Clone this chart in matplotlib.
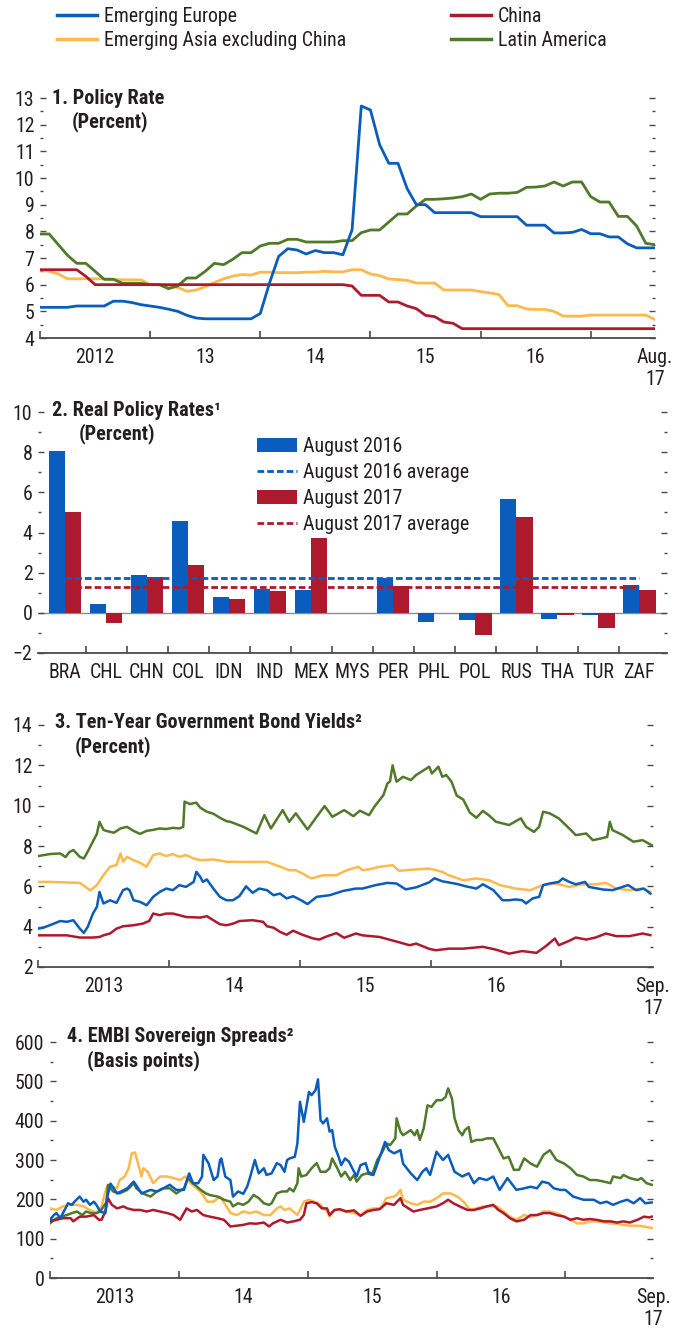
import numpy as np
import matplotlib
matplotlib.use('Agg')
import matplotlib.pyplot as plt
from matplotlib import font_manager as fm
from matplotlib.ticker import MultipleLocator, FixedLocator, FixedFormatter, NullFormatter
from matplotlib.lines import Line2D
from matplotlib.patches import Patch


def pick_family(cands, weight):
    have = {(f.name, f.weight, f.style) for f in fm.fontManager.ttflist}
    for c in cands:
        if (c, weight, 'normal') in have:
            return c
    return 'DejaVu Sans'


condensed = ['Roboto Condensed', 'Archivo Narrow', 'PT Sans Narrow', 'IBM Plex Sans Condensed',
             'Pragati Narrow', 'Fira Sans Condensed', 'Barlow Condensed', 'Liberation Sans Narrow']
REG = pick_family(condensed, 400)
BOLD = pick_family(condensed, 700)
plt.rcParams['font.family'] = [REG, 'DejaVu Sans']
FS = 14.3
FS_B = 14.6
plt.rcParams['font.size'] = FS

BLUE = '#0a5cbd'
RED = '#ad1a2e'
ORANGE = '#fdb94b'
GREEN = '#4e7a29'
TEXT = '#231f20'
AXIS = '#4a4a4a'

series_names = ['Emerging Europe', 'Emerging Asia excluding China', 'China', 'Latin America']

# ---- panel 1: policy rate, monthly Jan 2012 - Aug 2017
p1_europe = [5.15, 5.15, 5.15, 5.15, 5.2, 5.2, 5.2, 5.2, 5.38, 5.38, 5.33, 5.25,
             5.2, 5.15, 5.08, 5.0, 4.85, 4.75, 4.72, 4.72, 4.72, 4.72, 4.72, 4.72,
             4.92, 6.06, 7.06, 7.35, 7.3, 7.15, 7.28, 7.2, 7.2, 7.12, 8.06, 12.7,
             12.55, 11.25, 10.55, 10.55, 9.6, 9.0, 9.0, 8.7, 8.7, 8.7, 8.7, 8.7,
             8.55, 8.55, 8.55, 8.55, 8.55, 8.23, 8.23, 8.23, 7.94, 7.94, 7.96, 8.07,
             7.91, 7.91, 7.79, 7.79, 7.53, 7.38, 7.38, 7.38]
p1_latam = [7.9, 7.9, 7.5, 7.1, 6.8, 6.8, 6.5, 6.2, 6.2, 6.05, 6.05, 6.05,
            6.0, 6.0, 5.85, 5.95, 6.25, 6.25, 6.5, 6.8, 6.75, 6.95, 7.2, 7.2,
            7.45, 7.55, 7.55, 7.7, 7.7, 7.6, 7.6, 7.6, 7.6, 7.65, 7.65, 7.95,
            8.05, 8.05, 8.35, 8.65, 8.65, 8.95, 9.2, 9.2, 9.22, 9.25, 9.3, 9.4,
            9.2, 9.4, 9.43, 9.43, 9.46, 9.65, 9.66, 9.7, 9.85, 9.7, 9.85, 9.85,
            9.3, 9.1, 9.1, 8.56, 8.56, 8.2, 7.55, 7.5]
p1_asia = [6.55, 6.5, 6.4, 6.22, 6.22, 6.22, 6.22, 6.22, 6.2, 6.18, 6.18, 6.18,
           6.0, 6.0, 5.95, 5.9, 5.75, 5.8, 5.92, 6.08, 6.22, 6.32, 6.38, 6.36,
           6.47, 6.47, 6.45, 6.45, 6.45, 6.47, 6.47, 6.5, 6.48, 6.48, 6.56, 6.56,
           6.4, 6.34, 6.21, 6.19, 6.16, 6.06, 6.06, 6.06, 5.8, 5.8, 5.8, 5.8,
           5.74, 5.69, 5.63, 5.21, 5.21, 5.09, 5.07, 5.07, 5.0, 4.82, 4.82, 4.82,
           4.86, 4.86, 4.86, 4.86, 4.86, 4.86, 4.86, 4.69]
p1_china = [6.56, 6.56, 6.56, 6.56, 6.56, 6.31, 6.0, 6.0, 6.0, 6.0, 6.0, 6.0,
            6.0, 6.0, 6.0, 6.0, 6.0, 6.0, 6.0, 6.0, 6.0, 6.0, 6.0, 6.0,
            6.0, 6.0, 6.0, 6.0, 6.0, 6.0, 6.0, 6.0, 6.0, 6.0, 5.95, 5.6,
            5.6, 5.6, 5.35, 5.35, 5.2, 5.1, 4.85, 4.8, 4.6, 4.55, 4.35, 4.35,
            4.35, 4.35, 4.35, 4.35, 4.35, 4.35, 4.35, 4.35, 4.35, 4.35, 4.35, 4.35,
            4.35, 4.35, 4.35, 4.35, 4.35, 4.35, 4.35, 4.35]

# ---- panel 2: real policy rates
countries = ['BRA', 'CHL', 'CHN', 'COL', 'IDN', 'IND', 'MEX', 'MYS',
             'PER', 'PHL', 'POL', 'RUS', 'THA', 'TUR', 'ZAF']
aug2016 = [8.06, 0.46, 1.9, 4.59, 0.81, 1.21, 1.16, -0.03, 1.74, -0.48, -0.38, 5.68, -0.33, -0.13, 1.41]
aug2017 = [5.0, -0.53, 1.8, 2.4, 0.71, 1.11, 3.74, -0.03, 1.32, -0.03, -1.08, 4.78, -0.12, -0.78, 1.16]

# ---- panel 3: ten-year yields (x = years since Jan 2013)
p3_latam_t = [0.00, 0.09, 0.17, 0.21, 0.24, 0.27, 0.32, 0.35, 0.37, 0.41, 0.45, 0.47, 0.50, 0.52, 0.58,
              0.63, 0.68, 0.73, 0.78, 0.83, 0.88, 0.93, 0.98, 1.03, 1.08, 1.11, 1.12, 1.16, 1.21, 1.24,
              1.29, 1.34, 1.39, 1.44, 1.47, 1.57, 1.67, 1.73, 1.78, 1.87, 1.92, 1.97, 2.06, 2.13, 2.19,
              2.25, 2.34, 2.41, 2.46, 2.53, 2.57, 2.64, 2.67, 2.69, 2.71, 2.74, 2.79, 2.85, 2.89, 2.99,
              3.01, 3.06, 3.09, 3.12, 3.16, 3.20, 3.25, 3.30, 3.35, 3.40, 3.45, 3.50, 3.60, 3.69, 3.73,
              3.79, 3.83, 3.86, 3.91, 3.98, 4.06, 4.11, 4.19, 4.24, 4.30, 4.35, 4.37, 4.39, 4.47, 4.55,
              4.62, 4.69]
p3_latam = [7.5, 7.6, 7.63, 7.45, 7.7, 7.8, 7.46, 7.38, 7.6, 8.1, 8.6, 9.2, 8.8, 8.75, 8.66,
            8.87, 8.95, 8.75, 8.6, 8.75, 8.8, 8.87, 8.84, 8.9, 8.87, 8.95, 10.2, 10.08, 10.15, 9.9,
            9.7, 9.6, 9.4, 9.23, 9.2, 8.95, 8.62, 9.53, 8.87, 9.78, 9.2, 9.62, 8.82, 9.45, 9.98,
            9.45, 9.78, 9.48, 9.75, 9.53, 9.94, 10.53, 11.1, 11.2, 12.0, 11.19, 11.43, 11.27, 11.52, 11.93,
            11.6, 11.93, 11.43, 11.52, 11.19, 10.5, 10.3, 9.66, 9.4, 9.74, 9.5, 9.2, 9.04, 9.37, 8.95,
            8.7, 8.95, 9.7, 9.62, 9.37, 8.87, 8.54, 8.62, 8.29, 8.37, 8.45, 9.2, 8.79, 8.54, 8.21,
            8.29, 8.04]
p3_asia_t = [0.00, 0.09, 0.22, 0.32, 0.37, 0.40, 0.45, 0.50, 0.55, 0.60, 0.63, 0.65, 0.68, 0.73, 0.78,
             0.83, 0.88, 0.93, 0.98, 1.03, 1.08, 1.13, 1.19, 1.24, 1.34, 1.44, 1.57, 1.67, 1.75, 1.82,
             1.92, 1.97, 2.02, 2.09, 2.18, 2.28, 2.36, 2.45, 2.48, 2.53, 2.61, 2.71, 2.76, 2.89, 2.99,
             3.09, 3.14, 3.25, 3.35, 3.45, 3.53, 3.65, 3.76, 3.86, 3.96, 4.06, 4.16, 4.26, 4.34, 4.42,
             4.52, 4.62, 4.68]
p3_asia = [6.22, 6.22, 6.19, 6.17, 5.94, 5.8, 6.06, 6.55, 6.97, 7.05, 7.63, 7.22, 7.46, 7.3, 7.17,
           6.97, 7.55, 7.63, 7.5, 7.6, 7.46, 7.55, 7.38, 7.3, 7.33, 7.22, 7.21, 7.21, 7.21, 7.05,
           6.8, 6.8, 6.64, 6.39, 6.55, 6.55, 6.8, 6.97, 6.8, 6.84, 6.97, 7.05, 6.77, 6.84, 6.88,
           6.72, 6.55, 6.3, 6.39, 6.3, 6.06, 5.89, 5.81, 6.06, 6.14, 5.97, 6.1, 6.1, 6.17, 5.89,
           5.81, 5.89, 5.72]
p3_europe_t = [0.00, 0.04, 0.09, 0.17, 0.22, 0.27, 0.32, 0.35, 0.38, 0.42, 0.45, 0.47, 0.50, 0.55, 0.60,
               0.65, 0.68, 0.70, 0.73, 0.78, 0.83, 0.88, 0.93, 0.98, 1.03, 1.08, 1.13, 1.19, 1.21, 1.24,
               1.26, 1.29, 1.34, 1.39, 1.44, 1.49, 1.54, 1.59, 1.64, 1.69, 1.75, 1.80, 1.85, 1.90, 1.95,
               2.01, 2.06, 2.13, 2.23, 2.33, 2.43, 2.48, 2.58, 2.67, 2.74, 2.81, 2.89, 2.99, 3.03, 3.09,
               3.20, 3.27, 3.35, 3.40, 3.48, 3.55, 3.60, 3.65, 3.70, 3.73, 3.78, 3.83, 3.86, 3.91, 3.98,
               4.01, 4.06, 4.11, 4.18, 4.21, 4.32, 4.39, 4.51, 4.57, 4.63, 4.68]
p3_europe = [3.9, 3.95, 4.07, 4.28, 4.24, 4.32, 3.9, 3.69, 3.99, 4.65, 4.98, 5.72, 5.15, 5.31, 5.18,
             5.81, 5.89, 5.81, 5.31, 5.23, 5.06, 5.48, 5.72, 5.89, 5.81, 6.06, 5.97, 6.22, 6.72, 6.47,
             6.22, 6.34, 5.89, 5.48, 5.31, 5.31, 5.52, 6.0, 5.68, 5.89, 5.81, 5.56, 5.64, 5.4, 5.51,
             5.31, 5.12, 5.48, 5.56, 5.77, 5.89, 5.89, 6.06, 6.17, 6.14, 5.85, 5.95, 6.2, 6.4, 6.25,
             6.12, 6.0, 5.89, 6.1, 5.81, 5.31, 5.31, 5.35, 5.31, 5.15, 5.4, 5.48, 6.06, 6.14, 6.22,
             6.39, 6.22, 6.1, 6.22, 5.97, 5.84, 5.81, 6.06, 5.81, 5.89, 5.64]
p3_china_t = [0.00, 0.22, 0.32, 0.42, 0.47, 0.50, 0.55, 0.60, 0.65, 0.73, 0.80, 0.85, 0.88, 0.93, 0.98,
              1.03, 1.08, 1.13, 1.24, 1.29, 1.34, 1.39, 1.44, 1.49, 1.54, 1.64, 1.72, 1.75, 1.80, 1.85,
              1.90, 1.95, 2.02, 2.10, 2.15, 2.20, 2.28, 2.34, 2.43, 2.48, 2.61, 2.74, 2.84, 2.89, 2.99,
              3.04, 3.14, 3.25, 3.40, 3.50, 3.60, 3.70, 3.81, 3.88, 3.95, 3.98, 4.06, 4.11, 4.19, 4.26,
              4.34, 4.42, 4.52, 4.62, 4.68]
p3_china = [3.57, 3.57, 3.46, 3.46, 3.49, 3.57, 3.66, 3.9, 4.02, 4.07, 4.15, 4.28, 4.65, 4.57, 4.65,
            4.65, 4.57, 4.48, 4.45, 4.52, 4.32, 4.12, 4.07, 4.15, 4.28, 4.32, 4.24, 4.02, 3.95, 3.74,
            3.6, 3.8, 3.6, 3.42, 3.36, 3.5, 3.68, 3.45, 3.66, 3.57, 3.49, 3.26, 3.08, 3.16, 2.9,
            2.83, 2.91, 2.91, 3.0, 2.86, 2.66, 2.79, 2.7, 3.03, 3.41, 3.08, 3.3, 3.46, 3.36, 3.46,
            3.66, 3.53, 3.53, 3.66, 3.58]

# ---- panel 4: EMBI spreads (x = years since Jan 2013)
p4_europe_t = [0.00, 0.03, 0.05, 0.08, 0.12, 0.14, 0.17, 0.19, 0.23, 0.26, 0.28, 0.31, 0.34, 0.36, 0.39,
               0.43, 0.44, 0.47, 0.52, 0.60, 0.65, 0.71, 0.78, 0.83, 0.88, 0.93, 0.98, 1.04, 1.08, 1.11,
               1.15, 1.18, 1.19, 1.23, 1.27, 1.30, 1.32, 1.33, 1.36, 1.40, 1.42, 1.46, 1.50, 1.53, 1.55,
               1.59, 1.62, 1.66, 1.68, 1.72, 1.76, 1.79, 1.82, 1.84, 1.86, 1.90, 1.92, 1.94, 1.97, 2.01,
               2.03, 2.06, 2.08, 2.10, 2.12, 2.15, 2.17, 2.19, 2.21, 2.24, 2.26, 2.29, 2.32, 2.36, 2.38,
               2.41, 2.45, 2.47, 2.51, 2.56, 2.60, 2.63, 2.67, 2.72, 2.74, 2.80, 2.85, 2.89, 2.92, 2.95,
               3.00, 3.05, 3.09, 3.14, 3.20, 3.25, 3.29, 3.33, 3.39, 3.44, 3.49, 3.55, 3.58, 3.62, 3.68,
               3.73, 3.78, 3.82, 3.87, 3.91, 3.96, 4.00, 4.06, 4.14, 4.22, 4.27, 4.32, 4.37, 4.43, 4.48,
               4.53, 4.58, 4.62, 4.67]
p4_europe = [148, 160, 165, 152, 177, 190, 186, 194, 207, 194, 199, 186, 194, 186, 169,
             165, 200, 240, 215, 228, 245, 215, 224, 220, 228, 237, 224, 224, 266, 241,
             241, 258, 313, 292, 249, 258, 300, 304, 258, 249, 207, 220, 214, 232, 253,
             300, 266, 279, 262, 266, 292, 287, 270, 300, 304, 308, 342, 448, 397, 473,
             465, 477, 505, 401, 393, 406, 372, 376, 334, 308, 287, 304, 296, 270, 258,
             287, 292, 270, 262, 308, 346, 325, 317, 325, 291, 266, 249, 270, 279, 262,
             321, 300, 313, 270, 258, 266, 241, 254, 249, 258, 224, 254, 241, 224, 228,
             232, 228, 245, 241, 228, 224, 224, 207, 199, 199, 190, 194, 186, 194, 199,
             190, 203, 190, 192]
p4_latam_t = [0.00, 0.05, 0.13, 0.17, 0.21, 0.25, 0.28, 0.32, 0.36, 0.39, 0.44, 0.45, 0.49, 0.54, 0.60,
              0.65, 0.67, 0.72, 0.78, 0.83, 0.88, 0.93, 0.98, 1.04, 1.07, 1.11, 1.17, 1.21, 1.24, 1.30,
              1.35, 1.40, 1.42, 1.46, 1.50, 1.54, 1.58, 1.62, 1.66, 1.70, 1.72, 1.76, 1.80, 1.84, 1.86,
              1.89, 1.92, 1.93, 1.95, 1.99, 2.03, 2.07, 2.10, 2.14, 2.17, 2.19, 2.23, 2.26, 2.29, 2.33,
              2.36, 2.38, 2.42, 2.46, 2.50, 2.54, 2.58, 2.61, 2.64, 2.68, 2.69, 2.72, 2.74, 2.80, 2.83,
              2.85, 2.87, 2.90, 2.93, 2.96, 3.00, 3.04, 3.07, 3.09, 3.12, 3.14, 3.17, 3.20, 3.22, 3.25,
              3.27, 3.31, 3.35, 3.39, 3.44, 3.48, 3.52, 3.56, 3.60, 3.64, 3.68, 3.73, 3.78, 3.83, 3.88,
              3.93, 3.99, 4.04, 4.09, 4.14, 4.19, 4.24, 4.30, 4.35, 4.37, 4.43, 4.45, 4.50, 4.56, 4.59,
              4.63, 4.67]
p4_latam = [139, 152, 160, 165, 169, 160, 169, 165, 165, 169, 194, 237, 220, 215, 224,
            241, 228, 215, 207, 220, 228, 228, 215, 228, 254, 241, 224, 215, 211, 207,
            199, 194, 182, 190, 186, 194, 211, 203, 190, 186, 190, 215, 220, 220, 228,
            220, 241, 279, 258, 262, 279, 292, 270, 270, 279, 304, 279, 258, 270, 249,
            262, 245, 262, 266, 262, 300, 321, 342, 338, 355, 406, 372, 363, 376, 363,
            376, 351, 380, 439, 435, 452, 452, 460, 482, 456, 406, 376, 363, 376, 384,
            346, 351, 351, 355, 355, 330, 304, 308, 275, 275, 304, 291, 283, 313, 325,
            300, 291, 279, 262, 258, 249, 249, 245, 241, 258, 254, 262, 254, 249, 254,
            241, 237]
p4_asia_t = [0.00, 0.05, 0.10, 0.16, 0.21, 0.26, 0.31, 0.36, 0.40, 0.44, 0.48, 0.52, 0.54, 0.58, 0.61,
             0.635, 0.66, 0.69, 0.71, 0.725, 0.76, 0.80, 0.855, 0.91, 0.96, 1.01, 1.05, 1.09, 1.14, 1.18,
             1.22, 1.27, 1.32, 1.37, 1.40, 1.45, 1.50, 1.55, 1.60, 1.66, 1.71, 1.76, 1.79, 1.82, 1.86,
             1.92, 1.94, 1.97, 2.01, 2.05, 2.10, 2.15, 2.17, 2.20, 2.25, 2.30, 2.36, 2.41, 2.46, 2.51,
             2.56, 2.59, 2.61, 2.67, 2.69, 2.72, 2.74, 2.80, 2.85, 2.90, 2.95, 3.00, 3.05, 3.11, 3.16,
             3.21, 3.26, 3.31, 3.36, 3.42, 3.47, 3.52, 3.57, 3.62, 3.68, 3.73, 3.78, 3.83, 3.88, 3.93,
             3.99, 4.04, 4.09, 4.14, 4.19, 4.24, 4.30, 4.35, 4.40, 4.45, 4.50, 4.56, 4.61, 4.67]
p4_asia = [177, 173, 182, 186, 186, 182, 173, 165, 182, 232, 232, 228, 249, 258, 279,
           317, 319, 283, 258, 279, 270, 241, 258, 258, 254, 249, 258, 241, 228, 215,
           194, 194, 207, 182, 165, 160, 169, 165, 169, 160, 160, 177, 182, 173, 177,
           160, 173, 194, 199, 194, 186, 169, 156, 173, 173, 169, 165, 160, 173, 177,
           177, 190, 203, 207, 211, 224, 199, 190, 186, 194, 194, 203, 215, 215, 207,
           194, 173, 177, 182, 182, 182, 169, 156, 148, 160, 156, 160, 169, 169, 165,
           156, 148, 139, 139, 144, 144, 141, 139, 138, 135, 133, 133, 131, 127]
p4_china_t = [0.00, 0.05, 0.10, 0.16, 0.18, 0.23, 0.28, 0.34, 0.38, 0.40, 0.43, 0.45, 0.48, 0.52, 0.57,
              0.60, 0.65, 0.70, 0.75, 0.80, 0.855, 0.91, 0.96, 1.01, 1.06, 1.10, 1.14, 1.19, 1.24, 1.30,
              1.35, 1.40, 1.45, 1.50, 1.55, 1.60, 1.66, 1.70, 1.73, 1.79, 1.84, 1.89, 1.94, 1.97, 1.99,
              2.03, 2.07, 2.11, 2.15, 2.17, 2.21, 2.25, 2.30, 2.36, 2.41, 2.46, 2.51, 2.56, 2.61, 2.67,
              2.72, 2.74, 2.82, 2.87, 2.93, 3.00, 3.05, 3.09, 3.13, 3.18, 3.24, 3.29, 3.34, 3.39, 3.44,
              3.48, 3.52, 3.57, 3.62, 3.68, 3.73, 3.78, 3.83, 3.88, 3.93, 3.99, 4.04, 4.09, 4.14, 4.19,
              4.24, 4.30, 4.35, 4.40, 4.45, 4.50, 4.56, 4.61, 4.65, 4.67]
p4_china = [144, 148, 152, 152, 144, 156, 156, 160, 148, 148, 169, 203, 186, 177, 182,
            177, 173, 173, 169, 173, 169, 165, 160, 148, 177, 169, 173, 160, 156, 152,
            148, 131, 133, 135, 139, 138, 141, 131, 139, 148, 141, 144, 148, 160, 190,
            193, 190, 177, 177, 160, 173, 175, 169, 172, 158, 169, 173, 175, 190, 186,
            203, 186, 169, 173, 177, 182, 190, 199, 190, 182, 173, 173, 177, 182, 186,
            173, 165, 152, 144, 148, 160, 160, 165, 165, 160, 156, 148, 152, 148, 150,
            148, 144, 144, 141, 144, 141, 148, 156, 154, 156]

W, H = 673, 1328
fig = plt.figure(figsize=(W / 100, H / 100), dpi=100)


def add_ax(left, right, top, bottom):
    return fig.add_axes([left / W, 1 - bottom / H, (right - left) / W, (bottom - top) / H])


def style_y(ax, ymin, ymax, major, minor):
    ax.set_ylim(ymin, ymax)
    ax.yaxis.set_major_locator(MultipleLocator(major))
    ax.yaxis.set_minor_locator(MultipleLocator(minor))
    for s in ('left', 'right', 'top'):
        ax.spines[s].set_visible(False)
    ax.spines['bottom'].set_color(AXIS)
    ax.spines['bottom'].set_linewidth(1.3)
    ax.tick_params(axis='y', which='both', direction='in', left=True, right=True,
                   colors=AXIS, labelcolor=TEXT, labelsize=FS, pad=4, width=1.0)
    ax.tick_params(axis='y', which='major', length=4.5)
    ax.tick_params(axis='y', which='minor', length=2.2)
    ax.patch.set_alpha(0)


def style_time(ax, start, end, years, labels, label_pos):
    ax.set_xlim(start, end)
    ax.xaxis.set_major_locator(FixedLocator(years))
    ax.xaxis.set_major_formatter(NullFormatter())
    ax.xaxis.set_minor_locator(FixedLocator(label_pos))
    ax.xaxis.set_minor_formatter(FixedFormatter(labels))
    ax.tick_params(axis='x', which='major', direction='in', length=5, width=1.2, colors=AXIS)
    ax.tick_params(axis='x', which='minor', length=0, pad=7.5, labelsize=FS, labelcolor=TEXT)


def title(x, y, line1, line2, dx2):
    kw = dict(fontweight='bold', fontsize=FS_B, color=TEXT, va='center', family=[BOLD, 'DejaVu Sans'])
    fig.text(x / W, 1 - y / H, line1, **kw)
    fig.text((x + dx2) / W, 1 - (y + 24) / H, line2, **kw)


# panel 1
ax1 = add_ax(40, 655, 98, 338)
m = np.arange(len(p1_europe))
x1 = 2012 + m / 12
ax1.plot(x1, p1_asia, color=ORANGE, lw=2.0)
ax1.plot(x1, p1_latam, color=GREEN, lw=2.0)
ax1.plot(x1, p1_china, color=RED, lw=2.0)
ax1.plot(x1, p1_europe, color=BLUE, lw=2.0)
style_y(ax1, 4, 13, 1, 0.5)
style_time(ax1, 2012, x1[-1], [2012, 2013, 2014, 2015, 2016, 2017],
           ['2012', '13', '14', '15', '16', 'Aug.\n17'],
           [2012.5, 2013.5, 2014.5, 2015.5, 2016.5, x1[-1]])
title(52, 98, '1. Policy Rate', '(Percent)', 20)

# panel 2
ax2 = add_ax(38, 667, 412, 653)
xc = np.arange(len(countries))
ax2.axhline(0, color='#8c8c8c', lw=1.0, zorder=1)
ax2.bar(xc - 0.2, aug2016, width=0.4, color=BLUE, zorder=2)
ax2.bar(xc + 0.2, aug2017, width=0.4, color=RED, zorder=2)
avg16 = np.mean(aug2016)
avg17 = np.mean(aug2017)
ax2.hlines(avg16, xc[0], xc[-1], colors=BLUE, lw=2.0, linestyles=(0, (2.4, 1.1)), zorder=3)
ax2.hlines(avg17, xc[0], xc[-1], colors=RED, lw=2.0, linestyles=(0, (2.4, 1.1)), zorder=3)
style_y(ax2, -2, 10, 2, 1)
ax2.set_xlim(-0.66, 14.68)
ax2.xaxis.set_major_locator(FixedLocator(xc[:-1] + 0.5))
ax2.xaxis.set_major_formatter(NullFormatter())
ax2.xaxis.set_minor_locator(FixedLocator(xc))
ax2.xaxis.set_minor_formatter(FixedFormatter(countries))
ax2.tick_params(axis='x', which='major', direction='in', length=5, width=1.2, colors=AXIS)
ax2.tick_params(axis='x', which='minor', length=0, pad=7.5, labelsize=FS, labelcolor=TEXT)
title(52, 410, '2. Real Policy Rates\u00b9', '(Percent)', 27)
leg2 = ax2.legend(handles=[Patch(facecolor=BLUE),
                           Line2D([], [], color=BLUE, lw=2.0, ls=(0, (2.4, 1.1))),
                           Patch(facecolor=RED),
                           Line2D([], [], color=RED, lw=2.0, ls=(0, (2.4, 1.1)))],
                  labels=['August 2016', 'August 2016 average', 'August 2017', 'August 2017 average'],
                  loc='upper left', bbox_to_anchor=(257 / W, 1 - 437 / H), bbox_transform=fig.transFigure,
                  frameon=False, fontsize=FS, handlelength=2.0, handleheight=0.7,
                  handletextpad=0.3, labelspacing=0.36, borderpad=0, borderaxespad=0)
for t in leg2.get_texts():
    t.set_color(TEXT)

# panel 3
ax3 = add_ax(38, 653, 725, 967)
ax3.plot(2013 + np.array(p3_asia_t), p3_asia, color=ORANGE, lw=1.8)
ax3.plot(2013 + np.array(p3_latam_t), p3_latam, color=GREEN, lw=1.8)
ax3.plot(2013 + np.array(p3_china_t), p3_china, color=RED, lw=1.8)
ax3.plot(2013 + np.array(p3_europe_t), p3_europe, color=BLUE, lw=1.8)
style_y(ax3, 2, 14, 2, 1)
style_time(ax3, 2013, 2017.70, [2013, 2014, 2015, 2016, 2017],
           ['2013', '14', '15', '16', 'Sep.\n17'],
           [2013.5, 2014.5, 2015.5, 2016.5, 2017.70])
title(55, 723, '3. Ten-Year Government Bond Yields\u00b2', '(Percent)', 20)

# panel 4
ax4 = add_ax(50, 653, 1042, 1278)
ax4.plot(2013 + np.array(p4_asia_t), p4_asia, color=ORANGE, lw=1.8)
ax4.plot(2013 + np.array(p4_latam_t), p4_latam, color=GREEN, lw=1.8)
ax4.plot(2013 + np.array(p4_china_t), p4_china, color=RED, lw=1.8)
ax4.plot(2013 + np.array(p4_europe_t), p4_europe, color=BLUE, lw=1.8)
style_y(ax4, 0, 600, 100, 50)
style_time(ax4, 2013, 2017.68, [2013, 2014, 2015, 2016, 2017],
           ['2013', '14', '15', '16', 'Sep.\n17'],
           [2013.5, 2014.5, 2015.5, 2016.5, 2017.68])
title(67, 1037, '4. EMBI Sovereign Spreads\u00b2', '(Basis points)', 20)

# top legend
handles = [Line2D([], [], color=c, lw=2.5) for c in (BLUE, ORANGE, RED, GREEN)]
leg = fig.legend(handles, [series_names[0], series_names[1], series_names[2], series_names[3]],
                 loc='upper left', bbox_to_anchor=(57 / W, 1 - 7 / H), ncol=2, frameon=False,
                 fontsize=FS, handlelength=2.0, handletextpad=0.35, columnspacing=5.3,
                 labelspacing=0.25, borderpad=0, borderaxespad=0)
for t in leg.get_texts():
    t.set_color(TEXT)

fig.savefig('out.png', dpi=100)
